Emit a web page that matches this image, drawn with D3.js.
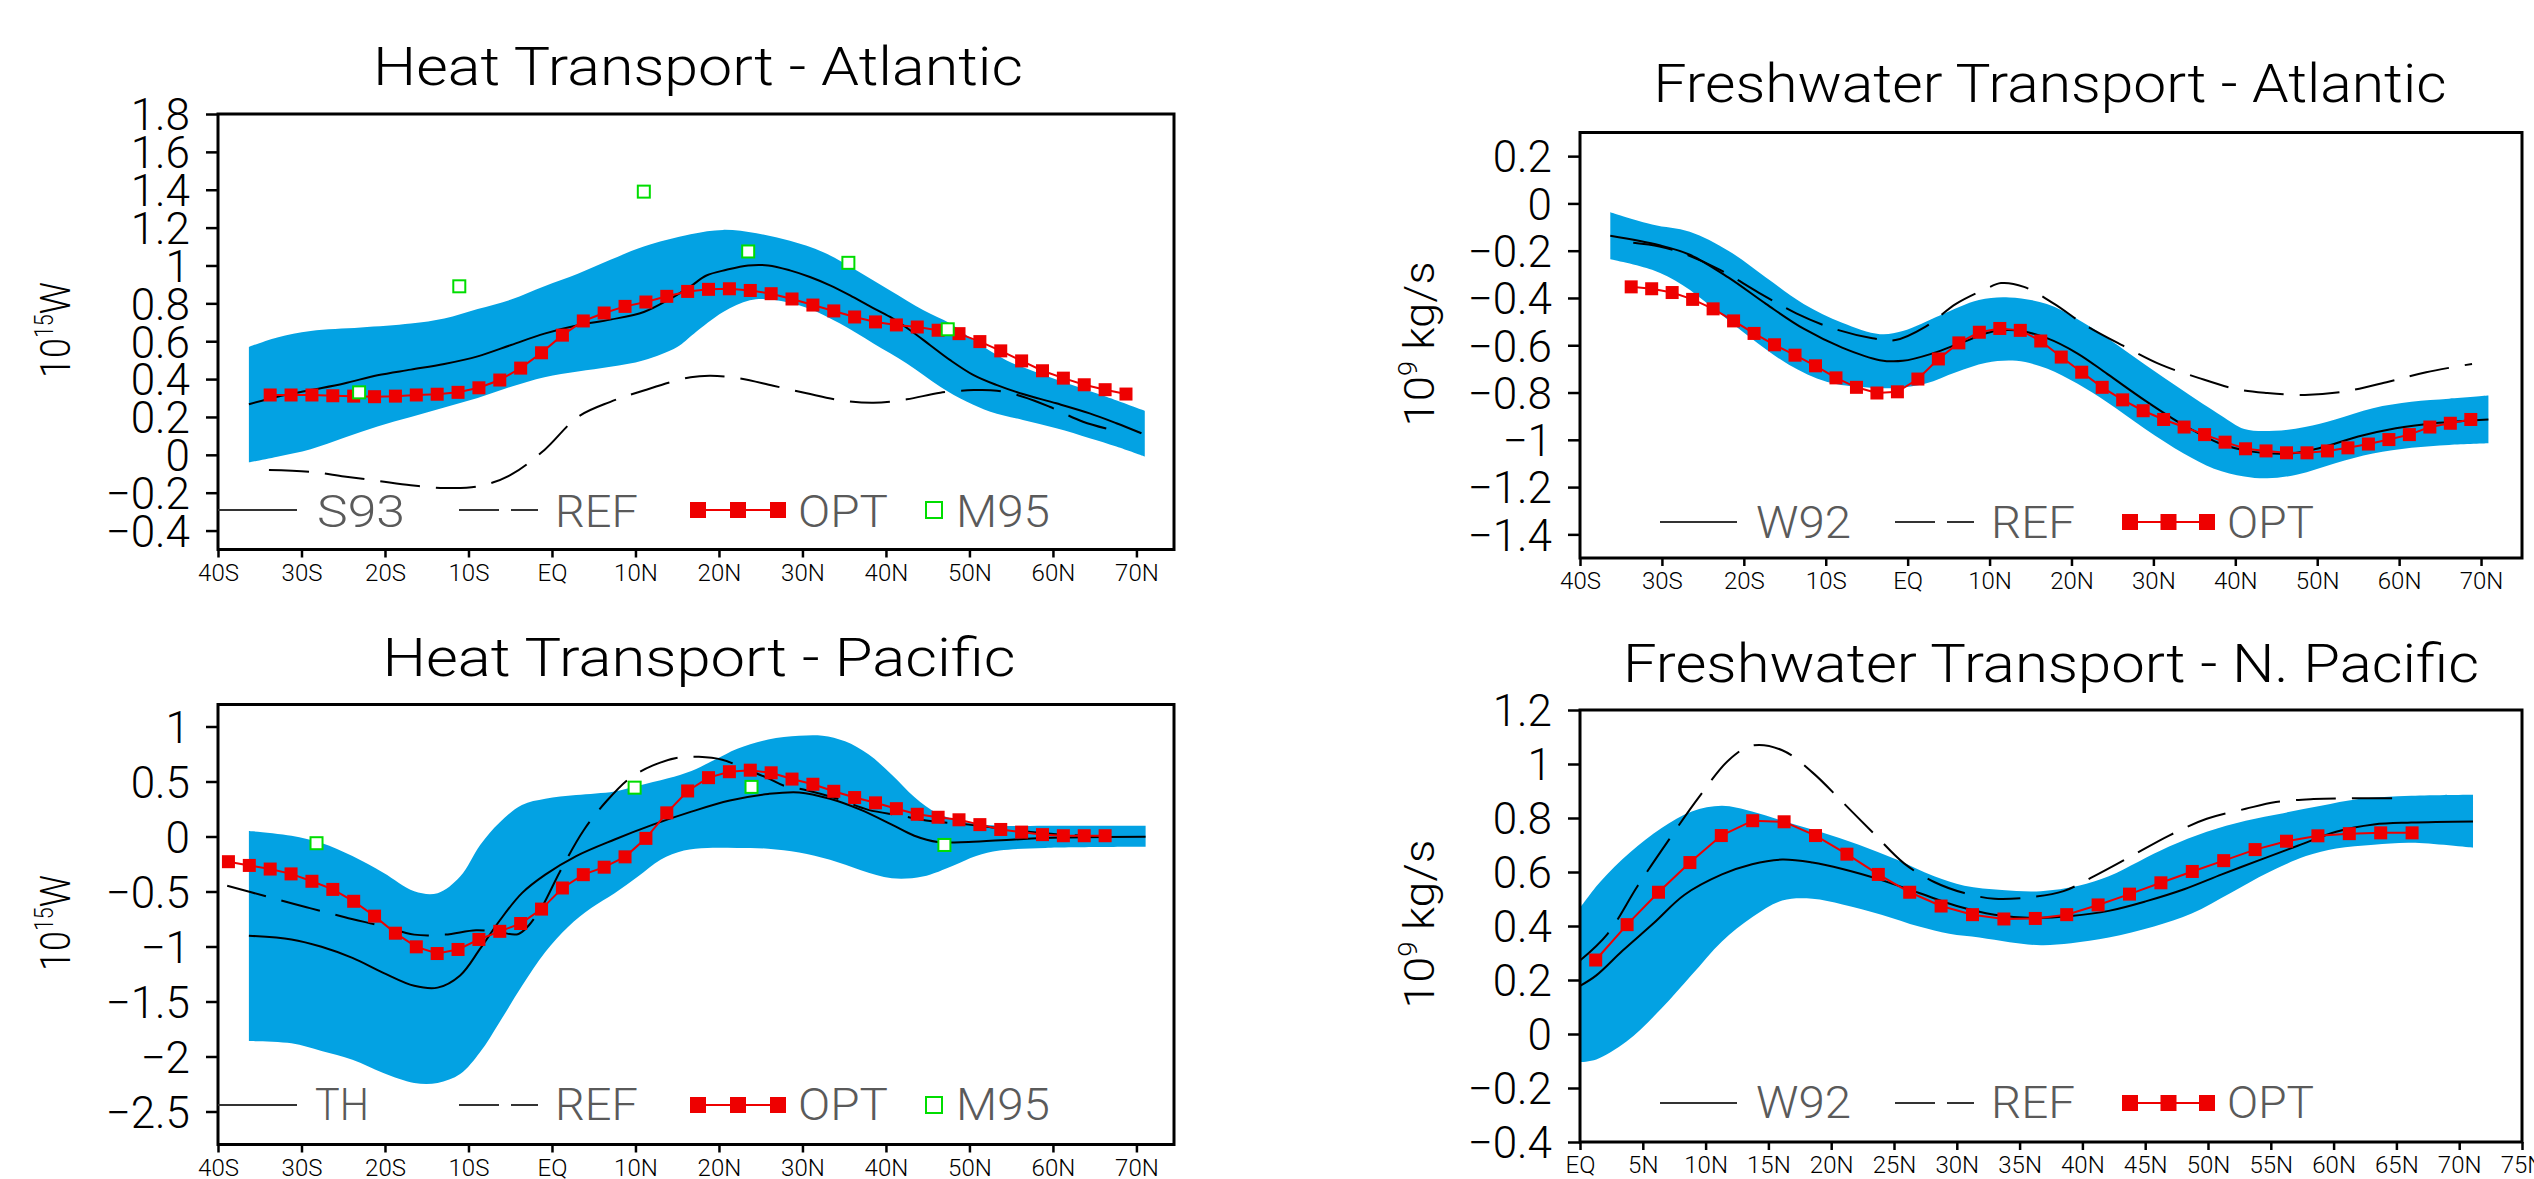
<!DOCTYPE html>
<html>
<head>
<meta charset="utf-8">
<script src="https://cdn.jsdelivr.net/npm/d3@7"></script>
<style>
  body { margin: 0; background: #fff; }
  svg text { font-family: Roboto, "DejaVu Sans", sans-serif; font-weight: 300; }
</style>
</head>
<body>
<svg id="chart" width="2534" height="1179"></svg>
<script>
// 1: DATA (latitude, value) pairs

// shared latitude ticks
const latTicks = [-40, -30, -20, -10, 0, 10, 20, 30, 40, 50, 60, 70];
const latTickLabels = ["40S", "30S", "20S", "10S", "EQ", "10N", "20N", "30N", "40N", "50N", "60N", "70N"];
const npacLatTicks = [0, 5, 10, 15, 20, 25, 30, 35, 40, 45, 50, 55, 60, 65, 70, 75];
const npacLatTickLabels = ["EQ", "5N", "10N", "15N", "20N", "25N", "30N", "35N", "40N", "45N", "50N", "55N", "60N", "65N", "70N", "75N"];

// OPT model latitudes
const optLatAtl = [-33.75, -31.25, -28.75, -26.25, -23.75, -21.25, -18.75, -16.25, -13.75, -11.25, -8.75, -6.25, -3.75, -1.25,
  1.25, 3.75, 6.25, 8.75, 11.25, 13.75, 16.25, 18.75, 21.25, 23.75, 26.25, 28.75, 31.25, 33.75, 36.25, 38.75,
  41.25, 43.75, 46.25, 48.75, 51.25, 53.75, 56.25, 58.75, 61.25, 63.75, 66.25, 68.75];
const optLatPac = [-38.75, -36.25, ...optLatAtl.slice(0, 41)];
const optLatNPac = [1.25, 3.75, 6.25, 8.75, 11.25, 13.75, 16.25, 18.75, 21.25, 23.75, 26.25, 28.75, 31.25, 33.75,
  36.25, 38.75, 41.25, 43.75, 46.25, 48.75, 51.25, 53.75, 56.25, 58.75, 61.25, 63.75, 66.25];

// --- Heat transport, Atlantic ---
const heatAtlYTicks = [-0.4, -0.2, 0, 0.2, 0.4, 0.6, 0.8, 1, 1.2, 1.4, 1.6, 1.8];
const heatAtlLegend = ["S93", "REF", "OPT", "M95"];
const heatAtlBandHi = [[-36.3, 0.57], [-32.9, 0.62], [-28.9, 0.654], [-22.9, 0.672], [-16.9, 0.693], [-12.9, 0.72],
  [-8.9, 0.77], [-4.9, 0.82], [-0.9, 0.89], [3.1, 0.956], [7.0, 1.03], [11.0, 1.10], [16.6, 1.165], [20.5, 1.188],
  [24.5, 1.17], [28.5, 1.13], [32.5, 1.07], [36.5, 0.974], [40.5, 0.868], [44.5, 0.763], [47.7, 0.693], [50.5, 0.605],
  [54.4, 0.50], [58.4, 0.43], [62.4, 0.368], [66.4, 0.307], [71.0, 0.233]];
const heatAtlBandLo = [[-36.3, -0.04], [-32.9, -0.01], [-28.9, 0.03], [-24.9, 0.09], [-20.9, 0.15], [-16.9, 0.20],
  [-12.9, 0.25], [-8.9, 0.30], [-4.9, 0.36], [-0.9, 0.41], [3.1, 0.44], [7.0, 0.465], [11.0, 0.50], [15.0, 0.57],
  [17.0, 0.64], [20.5, 0.754], [23.7, 0.816], [26.5, 0.819], [30.5, 0.777], [34.5, 0.693], [38.5, 0.588],
  [42.5, 0.482], [46.5, 0.36], [49.7, 0.28], [52.5, 0.228], [56.4, 0.184], [60.4, 0.14], [64.4, 0.088],
  [67.6, 0.044], [71.0, -0.009]];
const heatAtlS93 = [[-36.3, 0.267], [-32.9, 0.307], [-28.9, 0.342], [-24.9, 0.377], [-20.9, 0.42], [-16.9, 0.45],
  [-12.9, 0.48], [-8.9, 0.52], [-4.9, 0.58], [-0.9, 0.64], [3.1, 0.684], [7.0, 0.714], [11.0, 0.754], [14.0, 0.82],
  [16.6, 0.89], [18.5, 0.947], [20.9, 0.977], [23.5, 1.0], [25.9, 1.0], [28.5, 0.974], [30.9, 0.939], [33.3, 0.895],
  [35.7, 0.842], [38.1, 0.784], [40.5, 0.728], [42.9, 0.658], [45.3, 0.579], [47.7, 0.50], [50.5, 0.421],
  [53.3, 0.368], [56.4, 0.321], [60.4, 0.272], [64.4, 0.219], [67.6, 0.167], [70.6, 0.114]];
const heatAtlREF = [[-33.9, -0.08], [-28.9, -0.09], [-24.9, -0.114], [-20.9, -0.137], [-16.9, -0.161], [-12.9, -0.175],
  [-8.9, -0.167], [-4.9, -0.105], [-0.9, 0.026], [3.1, 0.20], [7.0, 0.28], [11.0, 0.34], [16.6, 0.41], [19.0, 0.418],
  [22.5, 0.404], [26.5, 0.365], [30.5, 0.325], [34.5, 0.289], [38.5, 0.275], [42.5, 0.293], [46.5, 0.328],
  [50.5, 0.342], [53.3, 0.339], [56.4, 0.307], [59.6, 0.254], [63.6, 0.175], [67.8, 0.123]];
const heatAtlOPT = [0.316, 0.316, 0.316, 0.312, 0.31, 0.307, 0.31, 0.316, 0.32, 0.33, 0.354, 0.395, 0.458, 0.539,
  0.632, 0.707, 0.749, 0.784, 0.807, 0.837, 0.863, 0.874, 0.877, 0.868, 0.851, 0.823, 0.791, 0.76, 0.728, 0.702,
  0.686, 0.675, 0.658, 0.64, 0.598, 0.549, 0.496, 0.444, 0.405, 0.37, 0.344, 0.321];
const heatAtlM95 = [[-23.1, 0.33], [-11.1, 0.89], [11.0, 1.39], [23.5, 1.074], [35.5, 1.014], [47.4, 0.663]];

// --- Freshwater transport, Atlantic ---
const freshAtlYTicks = [-1.4, -1.2, -1, -0.8, -0.6, -0.4, -0.2, 0, 0.2];
const freshAtlLegend = ["W92", "REF", "OPT"];
const freshAtlBandHi = [[-36.3, -0.037], [-31.2, -0.089], [-26.6, -0.12], [-21.9, -0.2], [-17.3, -0.313],
  [-12.7, -0.425], [-8.0, -0.505], [-3.4, -0.553], [-0.6, -0.54], [4.0, -0.473], [8.7, -0.409], [12.4, -0.398],
  [17.0, -0.425], [20.7, -0.489], [24.4, -0.57], [29.0, -0.682], [33.7, -0.794], [38.3, -0.898], [41.1, -0.954],
  [44.8, -0.962], [48.5, -0.946], [52.2, -0.914], [56.8, -0.866], [61.5, -0.839], [66.1, -0.826], [70.9, -0.813]];
const freshAtlBandLo = [[-36.3, -0.236], [-31.2, -0.281], [-27.5, -0.345], [-23.8, -0.441], [-19.1, -0.57],
  [-14.5, -0.682], [-9.9, -0.754], [-5.2, -0.778], [-1.5, -0.781], [2.2, -0.762], [5.9, -0.714], [9.6, -0.674],
  [13.3, -0.666], [17.0, -0.698], [20.7, -0.762], [24.4, -0.842], [29.0, -0.954], [33.7, -1.058], [37.4, -1.122],
  [41.1, -1.155], [43.9, -1.163], [47.6, -1.147], [52.2, -1.099], [56.8, -1.058], [61.5, -1.034], [66.1, -1.022],
  [70.9, -1.015]];
const freshAtlW92 = [[-36.3, -0.137], [-30.3, -0.177], [-26.6, -0.217], [-21.9, -0.313], [-17.3, -0.425],
  [-12.7, -0.53], [-8.0, -0.61], [-3.4, -0.663], [-0.6, -0.666], [3.1, -0.634], [6.8, -0.586], [10.5, -0.541],
  [13.3, -0.537], [17.0, -0.57], [20.7, -0.634], [24.4, -0.722], [29.0, -0.834], [33.7, -0.938], [38.3, -1.018],
  [42.0, -1.05], [46.6, -1.058], [50.4, -1.034], [55.0, -0.986], [59.6, -0.951], [64.3, -0.93], [70.9, -0.914]];
const freshAtlREF = [[-33.5, -0.166], [-30.3, -0.182], [-27.0, -0.217], [-22.9, -0.281], [-18.2, -0.377],
  [-13.6, -0.465], [-9.0, -0.53], [-4.3, -0.57], [-1.5, -0.578], [2.2, -0.521], [5.9, -0.425], [9.6, -0.361],
  [11.4, -0.337], [14.2, -0.353], [17.9, -0.425], [21.6, -0.513], [26.3, -0.602], [30.9, -0.682], [35.5, -0.738],
  [40.2, -0.786], [43.9, -0.802], [48.5, -0.81], [53.1, -0.797], [58.7, -0.754], [63.3, -0.714], [68.9, -0.679]];
const freshAtlOPT = [-0.353, -0.361, -0.377, -0.406, -0.446, -0.497, -0.55, -0.598, -0.642, -0.687, -0.738, -0.778,
  -0.802, -0.797, -0.743, -0.658, -0.59, -0.545, -0.529, -0.537, -0.582, -0.65, -0.714, -0.778, -0.831, -0.877,
  -0.914, -0.946, -0.978, -1.01, -1.038, -1.047, -1.055, -1.055, -1.047, -1.034, -1.018, -0.999, -0.978, -0.946,
  -0.93, -0.914];

// --- Heat transport, Pacific ---
const heatPacYTicks = [-2.5, -2, -1.5, -1, -0.5, 0, 0.5, 1];
const heatPacLegend = ["TH", "REF", "OPT", "M95"];
const heatPacBandHi = [[-36.3, 0.05], [-31.2, 0.007], [-27.6, -0.06], [-23.9, -0.178], [-20.2, -0.33], [-16.5, -0.498],
  [-13.7, -0.515], [-11.0, -0.364], [-8.6, -0.077], [-6.3, 0.125], [-3.6, 0.286], [-0.8, 0.343], [2.9, 0.377],
  [7.5, 0.41], [10.3, 0.461], [13.9, 0.529], [16.7, 0.596], [19.5, 0.697], [22.2, 0.798], [25.9, 0.882],
  [29.6, 0.916], [32.4, 0.916], [35.1, 0.865], [37.9, 0.747], [40.7, 0.562], [43.4, 0.36], [46.2, 0.209],
  [49.9, 0.125], [53.6, 0.098], [59.1, 0.098], [71.1, 0.098]];
const heatPacBandLo = [[-36.3, -1.86], [-31.2, -1.88], [-27.6, -1.95], [-23.9, -2.03], [-20.2, -2.15], [-16.5, -2.24],
  [-13.7, -2.24], [-11.0, -2.16], [-8.6, -1.96], [-6.3, -1.69], [-3.6, -1.36], [-0.8, -1.05], [1.95, -0.82],
  [4.7, -0.65], [7.5, -0.515], [10.3, -0.364], [13.0, -0.212], [15.8, -0.128], [18.6, -0.104], [22.2, -0.104],
  [25.9, -0.111], [29.6, -0.145], [33.3, -0.212], [37.0, -0.306], [40.7, -0.38], [44.4, -0.364], [48.1, -0.263],
  [50.8, -0.178], [53.6, -0.128], [59.1, -0.104], [71.1, -0.094]];
const heatPacTH = [[-36.3, -0.902], [-31.2, -0.936], [-27.6, -1.003], [-23.9, -1.104], [-20.2, -1.239],
  [-16.5, -1.357], [-13.7, -1.374], [-11.0, -1.263], [-8.6, -1.02], [-6.3, -0.768], [-3.6, -0.515], [-0.8, -0.347],
  [2.9, -0.178], [7.5, -0.027], [12.1, 0.108], [16.7, 0.226], [21.3, 0.327], [25.9, 0.387], [29.6, 0.401],
  [33.3, 0.343], [37.0, 0.242], [40.7, 0.108], [43.4, 0.007], [46.2, -0.05], [49.9, -0.05], [55.4, -0.027],
  [61.0, -0.01], [71.1, -0.003]];
const heatPacREF = [[-38.9, -0.448], [-34.0, -0.549], [-29.4, -0.643], [-24.8, -0.734], [-20.2, -0.818],
  [-16.5, -0.892], [-12.8, -0.892], [-9.1, -0.852], [-6.3, -0.869], [-4.0, -0.886], [-1.7, -0.70], [1.0, -0.313],
  [3.8, 0.057], [6.6, 0.327], [9.3, 0.529], [12.1, 0.646], [14.9, 0.714], [17.6, 0.724], [20.4, 0.697],
  [23.2, 0.613], [25.9, 0.529], [27.8, 0.461], [30.5, 0.421], [34.2, 0.343], [37.9, 0.242], [41.6, 0.192],
  [45.3, 0.141], [49.9, 0.108], [55.4, 0.057], [61.0, 0.017], [66.5, 0.0]];
const heatPacOPT = [-0.229, -0.263, -0.296, -0.34, -0.407, -0.481, -0.589, -0.724, -0.879, -1.003, -1.064, -1.027,
  -0.936, -0.862, -0.791, -0.66, -0.468, -0.347, -0.279, -0.185, -0.017, 0.215, 0.414, 0.535, 0.589, 0.603, 0.579,
  0.522, 0.475, 0.411, 0.354, 0.306, 0.253, 0.202, 0.175, 0.152, 0.108, 0.064, 0.04, 0.017, 0.007, 0.007, 0.007];
const heatPacM95 = [[-28.2, -0.061], [9.9, 0.444], [23.9, 0.451], [47.0, -0.077]];

// --- Freshwater transport, N. Pacific ---
const freshPacYTicks = [-0.4, -0.2, 0, 0.2, 0.4, 0.6, 0.8, 1, 1.2];
const freshPacLegend = ["W92", "REF", "OPT"];
const freshPacBandHi = [[0, 0.467], [1.6, 0.563], [4.0, 0.673], [6.5, 0.763], [8.9, 0.824], [11.3, 0.845],
  [13.7, 0.824], [16.1, 0.79], [19.1, 0.749], [22.2, 0.701], [25.2, 0.646], [28.2, 0.584], [30.6, 0.549],
  [33.6, 0.533], [36.7, 0.529], [39.7, 0.549], [42.1, 0.584], [44.5, 0.639], [46.9, 0.694], [49.9, 0.749],
  [53.0, 0.79], [56.0, 0.818], [59.0, 0.845], [62.0, 0.87], [66.2, 0.882], [71.1, 0.886]];
const freshPacBandLo = [[0, -0.104], [1.3, -0.094], [3.7, -0.028], [6.5, 0.095], [8.9, 0.219], [11.3, 0.343],
  [13.7, 0.432], [16.1, 0.494], [18.5, 0.501], [20.9, 0.48], [24.0, 0.442], [27.0, 0.398], [29.4, 0.371],
  [31.8, 0.357], [34.2, 0.34], [36.7, 0.329], [39.1, 0.336], [42.1, 0.357], [45.7, 0.398], [48.7, 0.446],
  [51.8, 0.522], [54.8, 0.598], [57.8, 0.659], [60.2, 0.687], [63.2, 0.701], [66.2, 0.708], [71.1, 0.69]];
const freshPacW92 = [[0, 0.178], [1.3, 0.217], [3.4, 0.309], [5.9, 0.412], [8.3, 0.515], [11.3, 0.591],
  [13.7, 0.629], [16.1, 0.646], [18.5, 0.635], [20.9, 0.611], [24.0, 0.57], [27.0, 0.522], [30.0, 0.474],
  [33.0, 0.442], [36.1, 0.43], [39.1, 0.437], [42.1, 0.456], [45.1, 0.492], [48.1, 0.536], [51.1, 0.591],
  [54.2, 0.646], [57.2, 0.698], [60.2, 0.749], [63.2, 0.776], [66.2, 0.783], [71.1, 0.787]];
const freshPacREF = [[0, 0.272], [2.2, 0.371], [4.6, 0.549], [7.1, 0.721], [9.5, 0.879], [11.9, 1.017], [13.7, 1.068],
  [16.1, 1.051], [18.5, 0.969], [20.9, 0.859], [23.4, 0.742], [25.8, 0.632], [28.2, 0.563], [30.6, 0.522],
  [33.0, 0.501], [36.1, 0.508], [38.5, 0.529], [40.9, 0.584], [43.9, 0.659], [46.9, 0.735], [49.9, 0.797],
  [53.0, 0.834], [55.4, 0.859], [58.4, 0.87], [61.4, 0.873], [65.9, 0.873]];
const freshPacOPT = [0.274, 0.405, 0.525, 0.635, 0.735, 0.79, 0.786, 0.735, 0.666, 0.591, 0.525, 0.474, 0.442, 0.426,
  0.428, 0.442, 0.478, 0.518, 0.56, 0.602, 0.642, 0.683, 0.714, 0.734, 0.742, 0.745, 0.745];

// 2: STYLE
const BLUE = "#03a2e3";
const RED = "#ee0000";
const GREEN = "#00dd00";
const LEGEND_GRAY = "#5a5a5a";

const svg = d3.select("#chart");

const fmtTick = d => String(Math.round(d * 10) / 10).replace("-", "\u2212");

// 3: PANEL DEFINITIONS (layout + which data)
const panels = [
  {
    id: "ha", left: 218, right: 1174, top: 114, bottom: 549.5,
    xDomain: [-40, 74.5], yDomain: [-0.5, 1.8],
    xTicks: latTicks, xLabels: latTickLabels, yTicks: heatAtlYTicks,
    title: "Heat Transport - Atlantic", titleX: 698, titleY: 85, titleW: 650,
    ylab: ["10", "15", "W"], ylabX: 70, ylabY: 330, ylabW: 96,
    bandHi: heatAtlBandHi, bandLo: heatAtlBandLo, solid: heatAtlS93, dashed: heatAtlREF,
    optLat: optLatAtl, opt: heatAtlOPT, m95: heatAtlM95,
    legend: heatAtlLegend, legY: 510, legBase: 527,
    legX: { solid: [218, 297, 317, 88], dash: [459, 538, 555, 83], opt: [690, 786, 798, 90], m95: [934, 956, 94] }
  },
  {
    id: "fa", left: 1580, right: 2522, top: 132.5, bottom: 558,
    xDomain: [-40, 75], yDomain: [-1.5, 0.3],
    xTicks: latTicks, xLabels: latTickLabels, yTicks: freshAtlYTicks,
    title: "Freshwater Transport - Atlantic", titleX: 2050, titleY: 102, titleW: 793,
    ylab: ["10", "9", " kg/s"], ylabX: 1434, ylabY: 344, ylabW: 165,
    bandHi: freshAtlBandHi, bandLo: freshAtlBandLo, solid: freshAtlW92, dashed: freshAtlREF,
    optLat: optLatAtl, opt: freshAtlOPT, m95: null,
    legend: freshAtlLegend, legY: 522, legBase: 538,
    legX: { solid: [1660, 1737, 1756, 95], dash: [1895, 1974, 1991, 84], opt: [2122, 2215, 2227, 87] }
  },
  {
    id: "hp", left: 218, right: 1174, top: 704.5, bottom: 1144.5,
    xDomain: [-40, 74.5], yDomain: [-2.8, 1.2],
    xTicks: latTicks, xLabels: latTickLabels, yTicks: heatPacYTicks,
    title: "Heat Transport - Pacific", titleX: 699, titleY: 676, titleW: 633,
    ylab: ["10", "15", "W"], ylabX: 70, ylabY: 923, ylabW: 96,
    bandHi: heatPacBandHi, bandLo: heatPacBandLo, solid: heatPacTH, dashed: heatPacREF,
    optLat: optLatPac, opt: heatPacOPT, m95: heatPacM95,
    legend: heatPacLegend, legY: 1105, legBase: 1120,
    legX: { solid: [218, 297, 315, 54], dash: [459, 538, 555, 83], opt: [690, 786, 798, 90], m95: [934, 956, 94] }
  },
  {
    id: "fp", left: 1580, right: 2522, top: 710, bottom: 1142,
    xDomain: [0, 75], yDomain: [-0.4, 1.2],
    xTicks: npacLatTicks, xLabels: npacLatTickLabels, yTicks: freshPacYTicks,
    title: "Freshwater Transport - N. Pacific", titleX: 2051, titleY: 682, titleW: 856,
    ylab: ["10", "9", " kg/s"], ylabX: 1434, ylabY: 924, ylabW: 169,
    bandHi: freshPacBandHi, bandLo: freshPacBandLo, solid: freshPacW92, dashed: freshPacREF,
    optLat: optLatNPac, opt: freshPacOPT, m95: null,
    legend: freshPacLegend, legY: 1103, legBase: 1118,
    legX: { solid: [1660, 1737, 1756, 95], dash: [1895, 1974, 1991, 84], opt: [2122, 2215, 2227, 87] }
  }
];

// 4: DRAW
function drawPanel(p) {
  const x = d3.scaleLinear().domain(p.xDomain).range([p.left, p.right]);
  const y = d3.scaleLinear().domain(p.yDomain).range([p.bottom, p.top]);
  const g = svg.append("g");

  g.append("clipPath").attr("id", "clip-" + p.id)
    .append("rect")
    .attr("x", p.left).attr("y", p.top)
    .attr("width", p.right - p.left).attr("height", p.bottom - p.top);

  const plot = g.append("g").attr("clip-path", `url(#clip-${p.id})`);

  const smooth = d3.line()
    .x(d => x(d[0]))
    .y(d => y(d[1]))
    .curve(d3.curveCatmullRom.alpha(0.5));

  // uncertainty band
  const hiPath = smooth(p.bandHi);
  const loPath = smooth(p.bandLo.slice().reverse());
  plot.append("path")
    .attr("d", hiPath + "L" + loPath.slice(1) + "Z")
    .attr("fill", BLUE);

  // REF (dashed)
  plot.append("path")
    .attr("d", smooth(p.dashed))
    .attr("fill", "none")
    .attr("stroke", "#000")
    .attr("stroke-width", 2)
    .attr("stroke-dasharray", "40,16");

  // observation estimate (solid)
  plot.append("path")
    .attr("d", smooth(p.solid))
    .attr("fill", "none")
    .attr("stroke", "#000")
    .attr("stroke-width", 2);

  // OPT line + markers
  const optData = p.optLat.map((lat, i) => [lat, p.opt[i]]);
  plot.append("path")
    .attr("d", d3.line().x(d => x(d[0])).y(d => y(d[1]))(optData))
    .attr("fill", "none")
    .attr("stroke", RED)
    .attr("stroke-width", 2);

  plot.selectAll(".opt")
    .data(optData)
    .enter()
    .append("rect")
    .attr("x", d => x(d[0]) - 6.5)
    .attr("y", d => y(d[1]) - 6.5)
    .attr("width", 13)
    .attr("height", 13)
    .attr("fill", RED);

  // M95 points
  if (p.m95) {
    plot.selectAll(".m95")
      .data(p.m95)
      .enter()
      .append("rect")
      .attr("x", d => x(d[0]) - 6)
      .attr("y", d => y(d[1]) - 6)
      .attr("width", 12)
      .attr("height", 12)
      .attr("fill", "#fff")
      .attr("stroke", GREEN)
      .attr("stroke-width", 2);
  }

  // axes
  const yAxis = g.append("g")
    .attr("transform", `translate(${p.left},0)`)
    .call(d3.axisLeft(y).tickValues(p.yTicks).tickSize(12).tickFormat(fmtTick));
  yAxis.select(".domain").remove();
  yAxis.selectAll(".tick line").attr("stroke-width", 2.5);
  yAxis.selectAll(".tick text")
    .attr("x", -28)
    .attr("dy", "0.36em")
    .attr("fill", "#000")
    .style("font-size", "44px");

  const xAxis = g.append("g")
    .attr("transform", `translate(0,${p.bottom})`)
    .call(d3.axisBottom(x).tickValues(p.xTicks).tickSize(8).tickFormat((d, i) => p.xLabels[i]));
  xAxis.select(".domain").remove();
  xAxis.selectAll(".tick line").attr("stroke-width", 2.5);
  xAxis.selectAll(".tick text")
    .attr("y", 31)
    .attr("dy", 0)
    .attr("fill", "#000")
    .style("font-size", "24px");

  // frame
  g.append("rect")
    .attr("x", p.left).attr("y", p.top)
    .attr("width", p.right - p.left).attr("height", p.bottom - p.top)
    .attr("fill", "none")
    .attr("stroke", "#000")
    .attr("stroke-width", 3);

  // title
  g.append("text")
    .attr("x", p.titleX)
    .attr("y", p.titleY)
    .attr("text-anchor", "middle")
    .attr("textLength", p.titleW)
    .attr("lengthAdjust", "spacingAndGlyphs")
    .style("font-size", "53px")
    .text(p.title);

  // y label with superscript
  const yl = g.append("text")
    .attr("transform", `translate(${p.ylabX},${p.ylabY}) rotate(-90)`)
    .attr("text-anchor", "middle")
    .attr("textLength", p.ylabW)
    .attr("lengthAdjust", "spacingAndGlyphs")
    .style("font-size", "42px");
  yl.append("tspan").text(p.ylab[0]);
  yl.append("tspan").attr("dy", -17).style("font-size", "25px").text(p.ylab[1]);
  yl.append("tspan").attr("dy", 17).text(p.ylab[2]);

  // legend
  const L = p.legX;
  const leg = g.append("g");
  const legText = (tx, tw, label) => leg.append("text")
    .attr("x", tx).attr("y", p.legBase)
    .attr("textLength", tw)
    .attr("lengthAdjust", "spacingAndGlyphs")
    .attr("fill", LEGEND_GRAY)
    .style("font-size", "45px")
    .text(label);

  leg.append("line")
    .attr("x1", L.solid[0]).attr("x2", L.solid[1])
    .attr("y1", p.legY).attr("y2", p.legY)
    .attr("stroke", "#333").attr("stroke-width", 2);
  legText(L.solid[2], L.solid[3], p.legend[0]);

  leg.append("line")
    .attr("x1", L.dash[0]).attr("x2", L.dash[1])
    .attr("y1", p.legY).attr("y2", p.legY)
    .attr("stroke", "#333").attr("stroke-width", 2)
    .attr("stroke-dasharray", "40,12");
  legText(L.dash[2], L.dash[3], p.legend[1]);

  leg.append("line")
    .attr("x1", L.opt[0]).attr("x2", L.opt[1])
    .attr("y1", p.legY).attr("y2", p.legY)
    .attr("stroke", RED).attr("stroke-width", 2);
  const step = (L.opt[1] - L.opt[0] - 16) / 2;
  [0, 1, 2].forEach(k => {
    leg.append("rect")
      .attr("x", L.opt[0] + k * step).attr("y", p.legY - 8)
      .attr("width", 16).attr("height", 16)
      .attr("fill", RED);
  });
  legText(L.opt[2], L.opt[3], p.legend[2]);

  if (L.m95) {
    leg.append("rect")
      .attr("x", L.m95[0] - 8).attr("y", p.legY - 8)
      .attr("width", 16).attr("height", 16)
      .attr("fill", "#fff")
      .attr("stroke", GREEN).attr("stroke-width", 2);
    legText(L.m95[1], L.m95[2], p.legend[3]);
  }
}

panels.forEach(drawPanel);
</script>
</body>
</html>
